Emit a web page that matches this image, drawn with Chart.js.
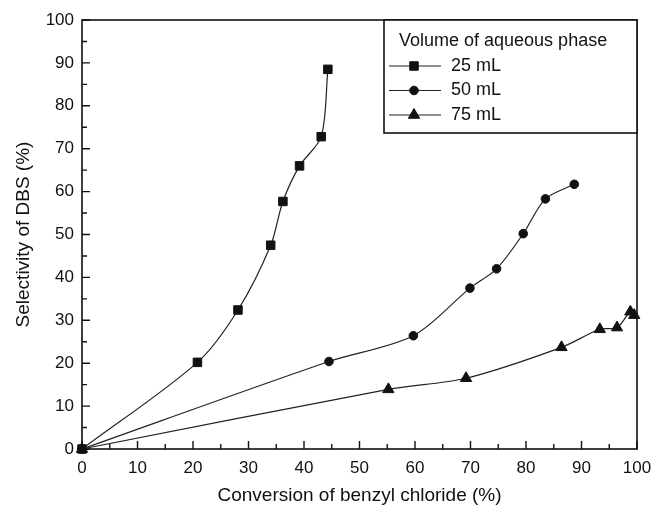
<!DOCTYPE html>
<html>
<head>
<meta charset="utf-8">
<script src="https://cdn.jsdelivr.net/npm/chart.js@4/dist/chart.umd.min.js"></script>
<style>
  html, body { margin: 0; padding: 0; background: #fff; }
  canvas { display: block; }
</style>
</head>
<body>
<canvas id="chart" width="655" height="509"></canvas>
<script>
(function () {
    'use strict';

    // --- Data ---
    const seriesNames = ['25 mL', '50 mL', '75 mL'];
    const legendTitle = 'Volume of aqueous phase';

    const conv25 = [0, 20.8, 28.1, 34.0, 36.2, 39.2, 43.1, 44.3];
    const sel25 = [0, 20.2, 32.4, 47.5, 57.7, 66.0, 72.8, 88.5];

    const conv50 = [0, 44.5, 59.7, 69.9, 74.7, 79.5, 83.5, 88.7];
    const sel50 = [0, 20.4, 26.4, 37.5, 42.0, 50.2, 58.3, 61.7];

    const conv75 = [0, 55.2, 69.2, 86.4, 93.3, 96.4, 98.8, 99.5];
    const sel75 = [0, 13.9, 16.5, 23.7, 27.9, 28.3, 32.0, 31.2];

    const axisMin = 0;
    const axisMax = 100;
    const majorStep = 10;
    const minorStep = 5;

    const FONT = '"Liberation Sans", Arial, Helvetica, sans-serif';
    const INK = '#111';

    const toPoints = (xs, ys) => xs.map((x, i) => ({ x, y: ys[i] }));

    function makeSet(label, xs, ys, style, radius) {
        return {
            label,
            data: toPoints(xs, ys),
            showLine: true,
            borderColor: '#222',
            borderWidth: 1.2,
            tension: 0.3,
            pointStyle: style,
            pointRadius: radius,
            pointHoverRadius: radius,
            pointBackgroundColor: INK,
            pointBorderColor: INK,
            pointBorderWidth: 1,
            clip: false
        };
    }

    // --- Frame + inward ticks ---
    const framePlugin = {
        id: 'frame',
        beforeDatasetsDraw(chart) {
            const { ctx, chartArea: a, scales } = chart;
            ctx.save();
            ctx.strokeStyle = INK;
            ctx.lineWidth = 1.6;
            ctx.strokeRect(a.left, a.top, a.right - a.left, a.bottom - a.top);
            ctx.lineWidth = 1.4;
            ctx.beginPath();
            for (let v = axisMin; v <= axisMax; v += minorStep) {
                const len = v % majorStep === 0 ? 8 : 5;
                const px = scales.x.getPixelForValue(v);
                ctx.moveTo(px, a.bottom);
                ctx.lineTo(px, a.bottom - len);
                const py = scales.y.getPixelForValue(v);
                ctx.moveTo(a.left, py);
                ctx.lineTo(a.left + len, py);
            }
            ctx.stroke();
            ctx.restore();
        }
    };

    // --- Boxed legend with title ---
    const legendPlugin = {
        id: 'boxLegend',
        afterDatasetsDraw(chart) {
            const { ctx, chartArea: a } = chart;
            const boxW = 253, boxH = 113;
            const x0 = a.right - boxW, y0 = a.top;
            ctx.save();
            ctx.fillStyle = '#fff';
            ctx.fillRect(x0, y0, boxW, boxH);
            ctx.strokeStyle = INK;
            ctx.lineWidth = 1.6;
            ctx.strokeRect(x0, y0, boxW, boxH);

            ctx.fillStyle = INK;
            ctx.font = '18px ' + FONT;
            ctx.textBaseline = 'middle';
            ctx.textAlign = 'left';
            ctx.fillText(legendTitle, x0 + 15, y0 + 21);

            chart.data.datasets.forEach((ds, i) => {
                const y = y0 + 46 + i * 24.5;
                ctx.strokeStyle = '#222';
                ctx.lineWidth = 1.2;
                ctx.beginPath();
                ctx.moveTo(x0 + 5, y);
                ctx.lineTo(x0 + 57, y);
                ctx.stroke();
                ctx.fillStyle = INK;
                ctx.strokeStyle = INK;
                ctx.lineWidth = 1;
                Chart.helpers.drawPoint(ctx, {
                    pointStyle: ds.pointStyle,
                    radius: ds.pointRadius,
                    rotation: 0,
                    borderWidth: 1
                }, x0 + 30, y);
                ctx.fillStyle = INK;
                ctx.fillText(ds.label, x0 + 67, y);
            });
            ctx.restore();
        }
    };

    const tickFont = { family: FONT, size: 17 };
    const titleFont = { family: FONT, size: 19 };

    new Chart(document.getElementById('chart'), {
        type: 'scatter',
        data: {
            datasets: [
                makeSet(seriesNames[0], conv25, sel25, 'rect', 6),
                makeSet(seriesNames[1], conv50, sel50, 'circle', 4.3),
                makeSet(seriesNames[2], conv75, sel75, 'triangle', 6.5)
            ]
        },
        options: {
            responsive: false,
            animation: false,
            devicePixelRatio: 1,
            layout: { padding: { left: 0, right: 18, top: 20, bottom: 0 } },
            plugins: {
                legend: { display: false },
                tooltip: { enabled: false }
            },
            scales: {
                x: {
                    type: 'linear',
                    min: axisMin,
                    max: axisMax,
                    afterFit: s => { s.height = 60; s.paddingLeft = 0; s.paddingRight = 0; },
                    grid: { drawOnChartArea: false, drawTicks: false },
                    border: { display: false },
                    ticks: { stepSize: majorStep, color: INK, font: tickFont, padding: 9, maxRotation: 0 },
                    title: {
                        display: true,
                        text: 'Conversion of benzyl chloride (%)',
                        color: INK,
                        font: titleFont,
                        padding: { top: 0, bottom: 2 }
                    }
                },
                y: {
                    type: 'linear',
                    min: axisMin,
                    max: axisMax,
                    afterFit: s => { s.width = 82; s.paddingTop = 0; s.paddingBottom = 0; },
                    grid: { drawOnChartArea: false, drawTicks: false },
                    border: { display: false },
                    ticks: { stepSize: majorStep, color: INK, font: tickFont, padding: 8 },
                    title: {
                        display: true,
                        text: 'Selectivity of DBS (%)',
                        color: INK,
                        font: titleFont,
                        padding: { top: 12, bottom: 0 }
                    }
                }
            }
        },
        plugins: [framePlugin, legendPlugin]
    });
})();
</script>
</body>
</html>
